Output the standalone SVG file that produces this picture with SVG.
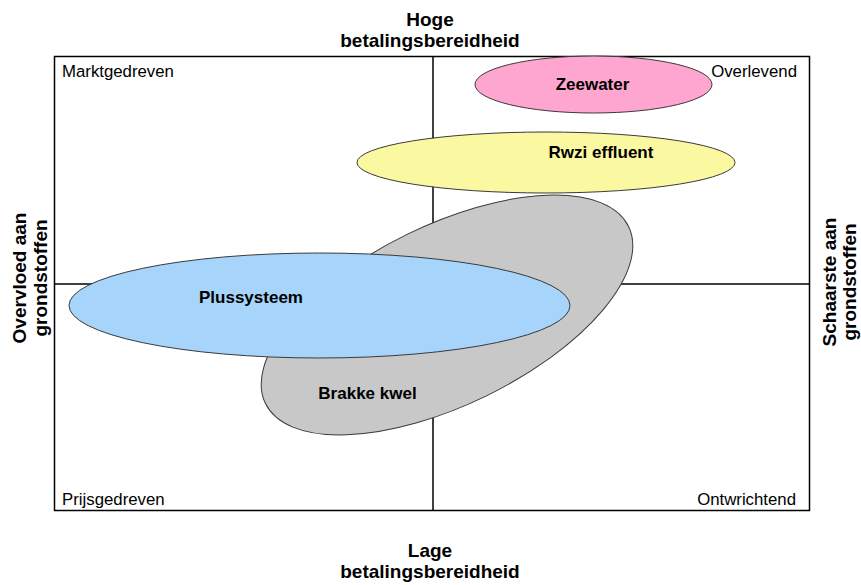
<svg xmlns="http://www.w3.org/2000/svg" width="861" height="585" viewBox="0 0 861 585">
<style>
.axis{font-family:"Liberation Sans",Arial,sans-serif;font-weight:bold;font-size:19px;fill:#000;text-anchor:middle}
.quad{font-family:"Liberation Sans",Arial,sans-serif;font-size:16.8px;fill:#000}
.lbl{font-family:"Liberation Sans",Arial,sans-serif;font-weight:bold;font-size:17px;fill:#000;text-anchor:middle}
.blob{stroke:#3a3a3a;stroke-width:1}
.ln{stroke:#000;stroke-width:1.5;fill:none}
</style>
<rect width="861" height="585" fill="#fff"/>
<g id="frame">
<rect x="54.5" y="56.5" width="755" height="454" fill="#fff" stroke="#000" stroke-width="1.5"/>
<line class="ln" x1="433" y1="56.5" x2="433" y2="510.5"/>
<line class="ln" x1="54.5" y1="284" x2="809.5" y2="284"/>
</g>
<g id="axis-labels">
<text class="axis" x="430" y="26">Hoge</text>
<text class="axis" x="430" y="47">betalingsbereidheid</text>
<text class="axis" x="430" y="557">Lage</text>
<text class="axis" x="430" y="578">betalingsbereidheid</text>
<text class="axis" transform="translate(26,278) rotate(-90)">Overvloed aan</text>
<text class="axis" transform="translate(47,278) rotate(-90)">grondstoffen</text>
<text class="axis" transform="translate(836,282) rotate(-90)">Schaarste aan</text>
<text class="axis" transform="translate(856,282) rotate(-90)">grondstoffen</text>
</g>
<g id="quadrant-labels">
<text class="quad" x="62" y="77">Marktgedreven</text>
<text class="quad" x="797" y="77" text-anchor="end">Overlevend</text>
<text class="quad" x="62" y="505">Prijsgedreven</text>
<text class="quad" x="796" y="505" text-anchor="end">Ontwrichtend</text>
</g>
<g id="zeewater">
<ellipse class="blob" cx="593.5" cy="84.5" rx="118.5" ry="28.5" fill="#FFA6D0"/>
<text class="lbl" x="592.5" y="90">Zeewater</text>
</g>
<g id="brakke-kwel">
<ellipse class="blob" cx="447" cy="315" rx="202" ry="90" transform="rotate(-26 447 315)" fill="#C8C8C8"/>
</g>
<g id="rwzi-effluent">
<ellipse class="blob" cx="546" cy="162.5" rx="189" ry="30.5" fill="#FBF8A2"/>
<text class="lbl" x="601" y="158">Rwzi effluent</text>
</g>
<g id="plussysteem">
<ellipse class="blob" cx="319.5" cy="305.5" rx="250.5" ry="52.5" fill="#A6D4FA"/>
<text class="lbl" x="251" y="303">Plussysteem</text>
</g>
<g id="brakke-kwel-label">
<text class="lbl" x="367.5" y="399">Brakke kwel</text>
</g>
</svg>
